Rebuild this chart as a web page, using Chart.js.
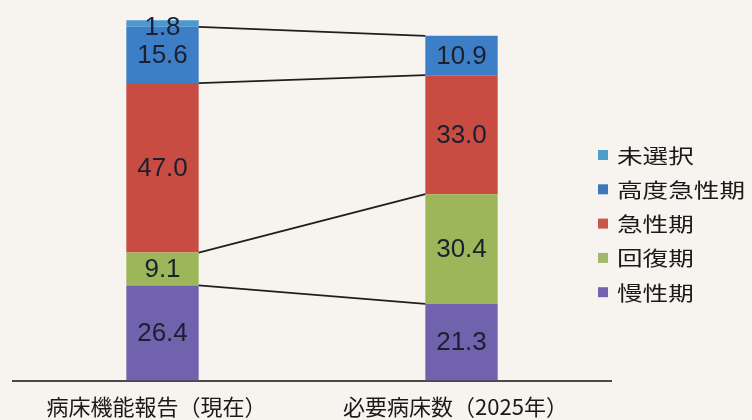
<!DOCTYPE html>
<html lang="ja">
<head>
<meta charset="utf-8">
<title>病床機能報告と必要病床数</title>
<script src="https://cdn.jsdelivr.net/npm/chart.js@4.4.1/dist/chart.umd.min.js"></script>
<style>
    html, body { margin: 0; padding: 0; background: #f7f4ef; }
    #bedChart { display: block; }
</style>
</head>
<body>
<canvas id="bedChart" width="752" height="420"></canvas>
<script>
'use strict';

// カテゴリ（横軸）
const categories = ['病床機能報告（現在）', '必要病床数（2025年）'];

// 各機能の値（下から順に積み上げ）
const manseiki = [26.4, 21.3];     // 慢性期
const kaifukuki = [9.1, 30.4];     // 回復期
const kyuseiki = [47.0, 33.0];     // 急性期
const kodoKyuseiki = [15.6, 10.9]; // 高度急性期
const misentaku = [1.8, 0];        // 未選択

const seriesNames = ['慢性期', '回復期', '急性期', '高度急性期', '未選択'];
const seriesValues = [manseiki, kaifukuki, kyuseiki, kodoKyuseiki, misentaku];
const seriesColors = ['#7062ac', '#9db65a', '#c94c42', '#3d7fc6', '#4b98d2'];
const legendColors = ['#7464ae', '#a0b86c', '#c9564c', '#3d78bc', '#4aa0c8'];

// 背景色
const bgPlugin = {
    id: 'bg',
    beforeDraw(chart) {
        const c = chart.ctx;
        c.save();
        c.fillStyle = '#f7f4ef';
        c.fillRect(0, 0, chart.width, chart.height);
        c.restore();
    }
};

// 棒の間をつなぐ線
const connectorPlugin = {
    id: 'connectors',
    afterDatasetsDraw(chart) {
        const c = chart.ctx;
        c.save();
        c.strokeStyle = '#1e1e1e';
        c.lineWidth = 1.8;
        // 慢性期〜高度急性期の上端をつなぐ
        for (let i = 0; i < 4; i++) {
            const meta = chart.getDatasetMeta(i);
            const a = meta.data[0];
            const b = meta.data[1];
            c.beginPath();
            c.moveTo(a.x + a.width / 2, a.y);
            c.lineTo(b.x - b.width / 2, b.y);
            c.stroke();
        }
        c.restore();
    }
};

// 棒の中の数値
const valueLabelPlugin = {
    id: 'valueLabels',
    afterDatasetsDraw(chart) {
        const c = chart.ctx;
        c.save();
        c.font = '26px "Liberation Sans", Arial, sans-serif';
        c.fillStyle = '#1b2030';
        c.textAlign = 'center';
        c.textBaseline = 'middle';
        chart.data.datasets.forEach((ds, i) => {
            const meta = chart.getDatasetMeta(i);
            meta.data.forEach((bar, j) => {
                const v = ds.data[j];
                if (!v) return;
                let y = (bar.y + bar.base) / 2;
                if (i === 4) y = Math.max(y, bar.y + 6);
                c.fillText(v.toFixed(1), bar.x, y + 1);
            });
        });
        c.restore();
    }
};

// 凡例（上から 未選択 → 慢性期）
const legendPlugin = {
    id: 'customLegend',
    afterDraw(chart) {
        const c = chart.ctx;
        const x0 = 598;
        const y0 = 155;
        const step = 34.3;
        c.save();
        c.textBaseline = 'middle';
        c.font = '20px "Noto Sans CJK JP", sans-serif';
        for (let k = 0; k < seriesNames.length; k++) {
            const i = seriesNames.length - 1 - k;
            const y = y0 + k * step;
            c.fillStyle = legendColors[i];
            c.fillRect(x0, y - 5, 10, 10);
            c.fillStyle = '#1a1a1a';
            c.save();
            c.translate(x0 + 19, y + 1);
            c.scale(1.28, 1);
            c.fillText(chart.data.datasets[i].label, 0, 0);
            c.restore();
        }
        c.restore();
    }
};

const datasets = seriesNames.map((name, i) => ({
    label: name,
    data: seriesValues[i],
    backgroundColor: seriesColors[i],
    borderWidth: 0,
    categoryPercentage: 1.0,
    barPercentage: 0.242
}));

new Chart(document.getElementById('bedChart').getContext('2d'), {
    type: 'bar',
    data: {
        labels: categories,
        datasets: datasets
    },
    options: {
        responsive: false,
        animation: false,
        layout: {
            padding: { left: 13, right: 141, top: 20, bottom: -13 }
        },
        plugins: {
            legend: { display: false },
            tooltip: { enabled: false }
        },
        scales: {
            x: {
                stacked: true,
                grid: { display: false, drawTicks: false },
                border: { color: '#4a4a4a', width: 2 },
                ticks: {
                    color: '#1a1a1a',
                    padding: 13,
                    labelOffset: -6,
                    font: { family: '"Noto Sans CJK JP", sans-serif', size: 22, lineHeight: 1.2 }
                }
            },
            y: {
                stacked: true,
                display: false,
                min: 0,
                max: 100
            }
        }
    },
    plugins: [bgPlugin, connectorPlugin, valueLabelPlugin, legendPlugin]
});
</script>
</body>
</html>
